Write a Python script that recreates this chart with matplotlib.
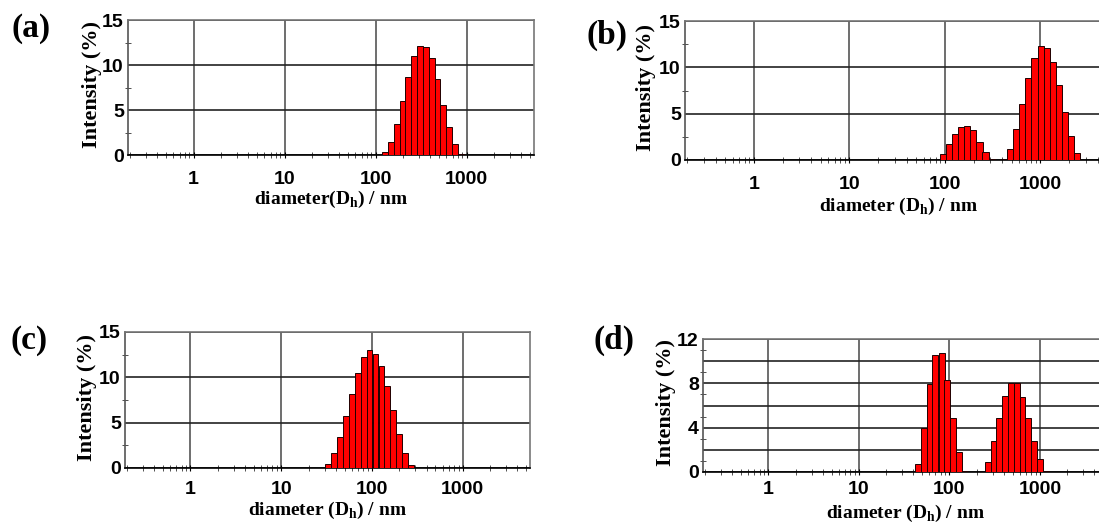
import numpy as np
import matplotlib
matplotlib.use("Agg")
import matplotlib.pyplot as plt
from matplotlib.ticker import FixedLocator, LogLocator, MultipleLocator, NullFormatter, FuncFormatter

plt.rcParams["font.family"] = ["Liberation Sans Narrow", "Liberation Sans", "DejaVu Sans"]
plt.rcParams["font.weight"] = "bold"
plt.rcParams["mathtext.fontset"] = "custom"
plt.rcParams["mathtext.rm"] = "Liberation Serif:bold"
plt.rcParams["mathtext.bf"] = "Liberation Serif:bold"

# DLS size distributions (intensity %)
a_diam = [127, 147, 171, 198, 229, 266, 308, 357, 414, 479, 555, 644, 746, 864]
a_int = [0.3, 1.5, 3.5, 6.0, 8.7, 11.0, 12.1, 12.0, 10.8, 8.4, 5.6, 3.1, 1.2, 0.1]

b_diam = [95, 110, 128, 148, 172, 199, 231, 267, 310, 359, 416, 482, 559, 647,
          750, 869, 1007, 1167, 1352, 1567, 1816, 2104, 2438]
b_int = [0.6, 1.7, 2.8, 3.6, 3.7, 3.2, 1.9, 0.9, 0.1, 0.0, 0.1, 1.2, 3.3, 6.0,
         8.9, 11.0, 12.3, 12.1, 10.6, 8.1, 5.2, 2.6, 0.8]

c_diam = [33, 38.4, 44.6, 51.7, 60, 69.7, 81, 94, 109, 127, 147, 171, 198, 230, 267]
c_int = [0.4, 1.6, 3.4, 5.7, 8.2, 10.5, 12.2, 13.0, 12.6, 11.2, 9.0, 6.4, 3.7, 1.6, 0.3]

d_diam = [45, 52, 61, 70, 82, 94, 109, 127, 147, 170, 197, 229, 265, 307, 356,
          412, 478, 554, 641, 743, 861, 998, 1157]
d_int = [0.7, 4.0, 7.9, 10.6, 10.7, 8.3, 4.9, 1.8, 0.1, 0.0, 0.0, 0.0, 0.9, 2.8,
         4.9, 6.9, 8.0, 8.0, 6.8, 4.9, 2.8, 1.2, 0.1]

x_ticks = [1, 10, 100, 1000]
x_ticklabels = ["1", "10", "100", "1000"]

W, H = 1099, 525
BIN = 0.064  # bar width in decades

fig = plt.figure(figsize=(W / 100, H / 100), dpi=100)

panels = [
    # letter, data, rect px (l, t, r, b), ymax, ystep, labelstep, xlabel, xlabel y,
    # ylabel x, x tick pad, letter pos
    ("(a)", a_diam, a_int, (128, 20, 534, 155), 15, 5, 5,
     "diameter(D$_\\mathbf{h}$) / nm", -0.25, -0.064, 9, (31, 29)),
    ("(b)", b_diam, b_int, (685, 21, 1111, 160), 15, 5, 5,
     "diameter (D$_\\mathbf{h}$) / nm", -0.255, -0.068, 9, (607, 35)),
    ("(c)", c_diam, c_int, (125, 332, 530, 468), 15, 5, 5,
     "diameter (D$_\\mathbf{h}$) / nm", -0.235, -0.069, 6.5, (29, 341)),
    ("(d)", d_diam, d_int, (703, 339, 1107, 472), 12, 2, 4,
     "diameter (D$_\\mathbf{h}$) / nm", -0.235, -0.068, 4, (614, 340)),
]

for letter, diam, inten, (l, t, r, b), ymax, ystep, lstep, xlab, xly, ylx, xpad, lpos in panels:
    ax = fig.add_axes([l / W, 1 - b / H, (r - l) / W, (b - t) / H])
    diam = np.array(diam, dtype=float)
    inten = np.array(inten, dtype=float)
    keep = inten > 0
    lo = diam * 10 ** (-BIN / 2)
    hi = diam * 10 ** (BIN / 2)
    ax.bar(lo[keep], inten[keep], width=(hi - lo)[keep], align="edge",
           color="#ff0000", edgecolor="#200000", linewidth=0.7, zorder=3)

    ax.set_xscale("log")
    ax.set_xlim(0.19, 5500)
    ax.set_ylim(0, ymax)
    ax.xaxis.set_major_locator(FixedLocator(x_ticks))
    ax.set_xticklabels(x_ticklabels)
    ax.xaxis.set_minor_locator(LogLocator(base=10, subs=np.arange(2, 10)))
    ax.xaxis.set_minor_formatter(NullFormatter())
    ax.yaxis.set_major_locator(MultipleLocator(ystep))
    ax.yaxis.set_minor_locator(MultipleLocator(ystep / 2))
    ax.yaxis.set_major_formatter(
        FuncFormatter(lambda v, p, s=lstep: f"{v:.0f}" if v % s == 0 else ""))

    ax.grid(True, axis="x", which="major", color="#555555", linewidth=1.2, zorder=1)
    ax.grid(True, axis="y", which="major", color="#222222", linewidth=1.2, zorder=1)
    ax.set_axisbelow(True)

    for side, col in (("left", "#555555"), ("top", "#777777"), ("right", "#777777"), ("bottom", "#000000")):
        ax.spines[side].set_color(col)
        ax.spines[side].set_linewidth(1.2)

    ax.tick_params(axis="y", which="major", length=0, pad=3, labelsize=14)
    ax.tick_params(axis="y", which="minor", length=4, direction="inout", color="#333333")
    ax.tick_params(axis="x", which="major", length=5, direction="inout", pad=xpad, labelsize=14)
    ax.tick_params(axis="x", which="minor", length=5, direction="inout", color="#333333")

    ax.set_xlabel(xlab, fontfamily="Liberation Serif", fontweight="bold", fontsize=14)
    ax.xaxis.set_label_coords(0.5, xly)
    ax.set_ylabel("Intensity (%)", fontfamily="Liberation Serif", fontweight="bold", fontsize=16)
    ax.yaxis.set_label_coords(ylx, 0.52)

    fig.text(lpos[0] / W, 1 - lpos[1] / H, letter, fontfamily="Liberation Serif",
             fontweight="bold", fontsize=24, ha="center", va="center")

fig.savefig("out.png", dpi=100)
